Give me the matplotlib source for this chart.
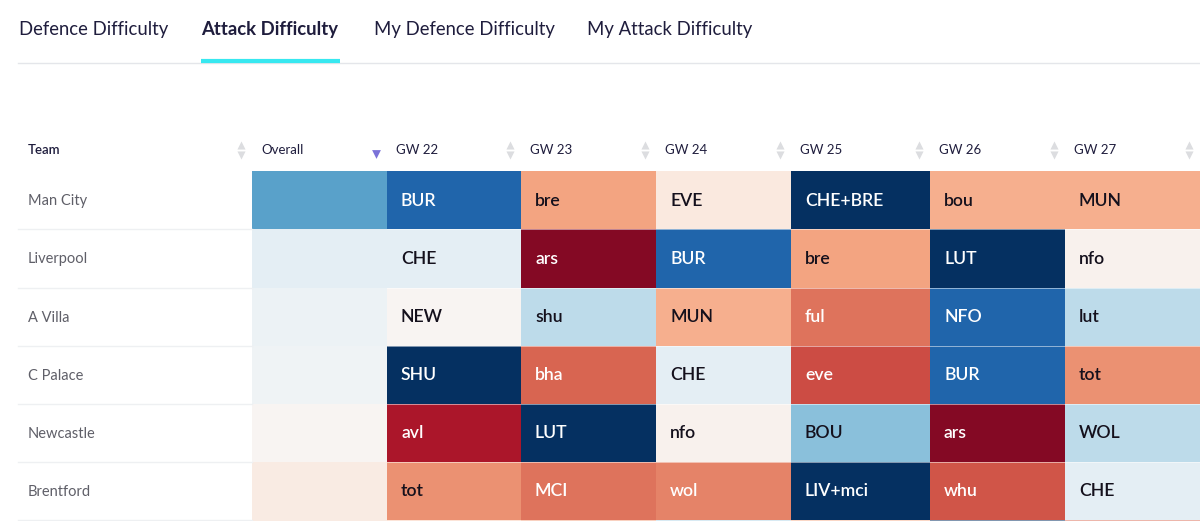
import numpy as np
import matplotlib
matplotlib.use("Agg")
import matplotlib.pyplot as plt

plt.rcParams['font.family'] = ['Lato', 'DejaVu Sans']

tabs = ["Defence Difficulty", "Attack Difficulty", "My Defence Difficulty", "My Attack Difficulty"]
tab_x = [19, 201.5, 374, 587]
active_tab = 1

teams = ["Man City", "Liverpool", "A Villa", "C Palace", "Newcastle", "Brentford", ""]
headers = ["Overall", "GW 22", "GW 23", "GW 24", "GW 25", "GW 26", "GW 27"]

fixtures = [
    ["", "BUR", "bre", "EVE", "CHE+BRE", "bou", "MUN"],
    ["", "CHE", "ars", "BUR", "bre", "LUT", "nfo"],
    ["", "NEW", "shu", "MUN", "ful", "NFO", "lut"],
    ["", "SHU", "bha", "CHE", "eve", "BUR", "tot"],
    ["", "avl", "LUT", "nfo", "BOU", "ars", "WOL"],
    ["", "tot", "MCI", "wol", "LIV+mci", "whu", "CHE"],
    ["", "", "", "", "", "", ""],
]

# position on the RdBu scale
# last row is only the sliver cut off by the bottom of the screenshot
difficulty = np.array([
    [0.77, 0.90, 0.30, 0.45, 1.00, 0.32, 0.32],
    [0.55, 0.55, 0.04, 0.90, 0.30, 1.00, 0.48],
    [0.53, 0.49, 0.63, 0.32, 0.23, 0.90, 0.63],
    [0.52, 1.00, 0.21, 0.55, 0.175, 0.90, 0.27],
    [0.49, 0.09, 1.00, 0.48, 0.71, 0.04, 0.63],
    [0.46, 0.27, 0.23, 0.25, 1.00, 0.185, 0.55],
    [0.46, 0.37, 0.30, 0.65, 0.32, 1.00, 0.22],
])

col_edges = [252, 387, 521, 656, 791, 930, 1065, 1200]
row_edges = [171, 229, 287.5, 345.5, 403.5, 461.5, 520, 535]

fig = plt.figure(figsize=(12, 5.21), dpi=100)
ax = fig.add_axes([0, 0, 1, 1])
ax.set_xlim(0, 1200)
ax.set_ylim(521, 0)
ax.axis("off")

ink = "#1f1d3d"

# tabs
for x, name, i in zip(tab_x, tabs, range(len(tabs))):
    ax.text(x, 29, name, fontsize=13.35, color=ink, va="center", ha="left",
            fontweight="bold" if i == active_tab else "normal")
ax.plot([18, 1200], [62.5, 62.5], color="#e4e6ea", lw=1)
ax.plot([201, 340], [61, 61], color="#37e8f0", lw=3, solid_capstyle="butt")

# grid
ax.pcolormesh(col_edges, row_edges, difficulty, cmap="RdBu", vmin=0, vmax=1,
              edgecolors="none")
for y in row_edges[1:-1]:
    ax.plot([18, 252], [y, y], color="#eef0f2", lw=1)
    ax.plot([387, 1200], [y, y], color="white", lw=0.6, alpha=0.6)

# header
ax.text(28, 149.5, "Team", fontsize=9.5, color=ink, va="center", fontweight="semibold")
for i, h in enumerate(headers):
    ax.text(col_edges[i] + 9, 149.5, h, fontsize=9.5, color=ink, va="center")

arrow_x = [col_edges[0] - 11] + [e - 11 for e in col_edges[2:]]
ax.scatter(arrow_x, [144.5] * len(arrow_x), marker="^", s=34, color="#dcdde0", linewidths=0)
ax.scatter(arrow_x, [154.5] * len(arrow_x), marker="v", s=34, color="#dcdde0", linewidths=0)
ax.scatter([col_edges[1] - 11], [154], marker="v", s=40, color="#7b72d8", linewidths=0)

# rows
for r, team in enumerate(teams):
    yc = (row_edges[r] + row_edges[r + 1]) / 2
    ax.text(28, yc + 1, team, fontsize=10.5, color="#5f5f68", va="center")
    for c, label in enumerate(fixtures[r]):
        v = difficulty[r, c]
        color = "white" if v < 0.26 or v > 0.72 else "#14101c"
        ax.text(col_edges[c] + 14, yc + 0.5, label, fontsize=12.7, color=color,
                va="center", fontweight="semibold")

fig.savefig("out.png", dpi=100)
